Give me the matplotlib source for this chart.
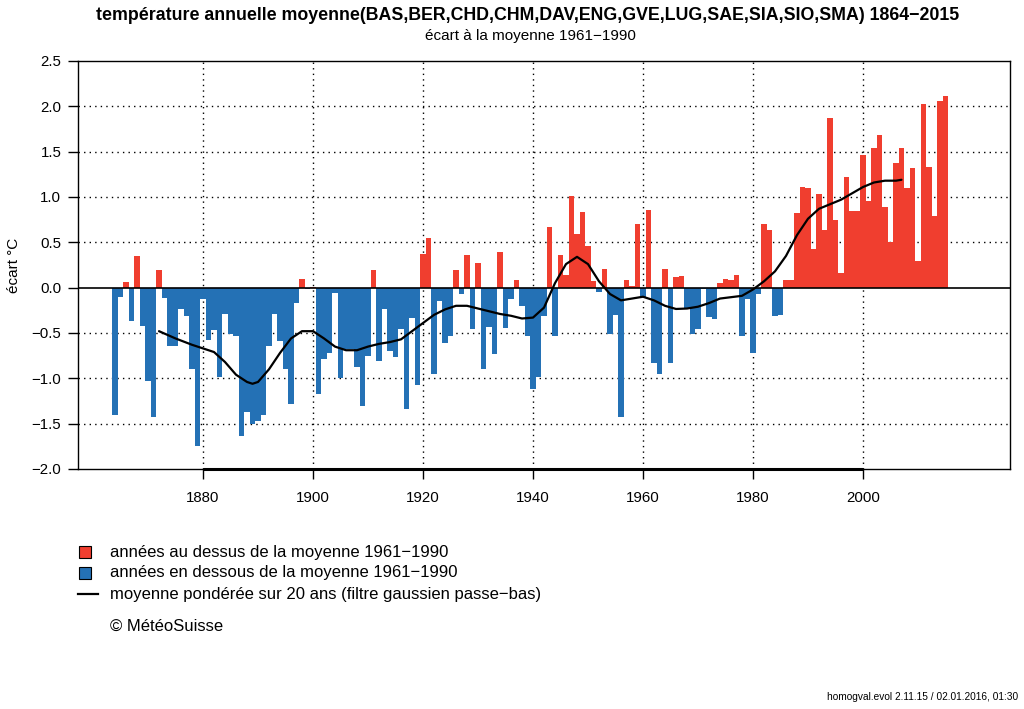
import numpy as np
import matplotlib
matplotlib.use("Agg")
import matplotlib.pyplot as plt
from matplotlib.patches import Rectangle
from matplotlib.lines import Line2D

plt.rcParams['font.family'] = ['Liberation Sans', 'DejaVu Sans']

first_year = 1864
anomaly = [
    -1.40, -0.10, 0.06, -0.37, 0.35, -0.42, -1.03, -1.43, 0.19, -0.11,   # 1864-1873
    -0.64, -0.64, -0.23, -0.31, -0.90, -1.75, -0.12, -0.58, -0.47, -0.99,  # 1874-1883
    -0.29, -0.51, -0.53, -1.64, -1.37, -1.50, -1.47, -1.40, -0.64, -0.29,  # 1884-1893
    -0.59, -0.90, -1.28, -0.17, 0.10, -0.02, 0.01, -1.17, -0.79, -0.72,    # 1894-1903
    -0.06, -1.00, -0.68, -0.68, -0.88, -1.30, -0.75, 0.20, -0.81, -0.23,   # 1904-1913
    -0.70, -0.76, -0.46, -1.34, -0.33, -1.07, 0.37, 0.55, -0.95, -0.15,    # 1914-1923
    -0.61, -0.53, 0.19, -0.07, 0.36, -0.46, 0.27, -0.90, -0.43, -0.73,     # 1924-1933
    0.39, -0.45, -0.13, 0.08, -0.20, -0.53, -1.12, -0.98, -0.31, 0.67,     # 1934-1943
    -0.53, 0.36, 0.14, 1.01, 0.59, 0.84, 0.46, 0.07, -0.05, 0.21,          # 1944-1953
    -0.51, -0.30, -1.43, 0.08, 0.02, 0.70, -0.10, 0.86, -0.83, -0.95,      # 1954-1963
    0.21, -0.83, 0.12, 0.13, -0.235, -0.51, -0.46, -0.02, -0.32, -0.35,    # 1964-1973
    0.055, 0.10, 0.08, 0.14, -0.53, -0.13, -0.72, -0.07, 0.70, 0.64,       # 1974-1983
    -0.31, -0.30, 0.09, 0.08, 0.82, 1.11, 1.10, 0.43, 1.03, 0.64,          # 1984-1993
    1.87, 0.75, 0.165, 1.22, 0.85, 0.85, 1.46, 0.96, 1.54, 1.68,           # 1994-2003
    0.89, 0.50, 1.37, 1.54, 1.10, 1.32, 0.29, 2.03, 1.33, 0.79,            # 2004-2013
    2.06, 2.11,                                                            # 2014-2015
]
years = np.arange(first_year, first_year + len(anomaly))

smooth_years = [1872, 1875, 1878, 1880, 1882, 1884, 1886, 1888, 1889, 1890,
                1892, 1894, 1896, 1898, 1900, 1902, 1904, 1906, 1908, 1910,
                1912, 1914, 1916, 1918, 1920, 1922, 1924, 1926, 1928, 1930,
                1932, 1934, 1936, 1938, 1940, 1942, 1944, 1946, 1948, 1950,
                1952, 1954, 1956, 1958, 1960, 1962, 1964, 1966, 1968, 1970,
                1972, 1974, 1976, 1978, 1980, 1982, 1984, 1986, 1988, 1990,
                1992, 1994, 1996, 1998, 2000, 2002, 2004, 2006, 2007]
smooth_vals = [-0.48, -0.56, -0.63, -0.67, -0.71, -0.82, -0.96, -1.04, -1.06, -1.04,
               -0.90, -0.72, -0.56, -0.48, -0.48, -0.56, -0.65, -0.69, -0.69, -0.65,
               -0.62, -0.60, -0.57, -0.48, -0.39, -0.30, -0.24, -0.20, -0.20, -0.23,
               -0.26, -0.29, -0.31, -0.34, -0.33, -0.22, 0.05, 0.26, 0.34, 0.26,
               0.07, -0.07, -0.14, -0.12, -0.10, -0.14, -0.20, -0.235, -0.23, -0.21,
               -0.17, -0.12, -0.105, -0.09, -0.02, 0.07, 0.18, 0.35, 0.58, 0.76,
               0.87, 0.92, 0.97, 1.04, 1.11, 1.16, 1.18, 1.18, 1.19]

x_ticks = [1880, 1900, 1920, 1940, 1960, 1980, 2000]
y_ticks = [2.5, 2.0, 1.5, 1.0, 0.5, 0.0, -0.5, -1.0, -1.5, -2.0]

title = "température annuelle moyenne(BAS,BER,CHD,CHM,DAV,ENG,GVE,LUG,SAE,SIA,SIO,SMA) 1864\u22122015"
subtitle = "écart à la moyenne 1961\u22121990"
ylabel = "écart °C"
legend_labels = ["années au dessus de la moyenne 1961\u22121990",
                 "années en dessous de la moyenne 1961\u22121990",
                 "moyenne pondérée sur 20 ans (filtre gaussien passe\u2212bas)"]
copyright_txt = "© MétéoSuisse"
footer = "homogval.evol 2.11.15 / 02.01.2016, 01:30"

RED = "#F03E2F"
BLUE = "#2471B5"

W, H = 1024, 709
fig = plt.figure(figsize=(W / 100, H / 100), dpi=100)
ax = fig.add_axes([78 / W, 1 - 469 / H, (1010 - 78) / W, (469 - 61) / H])

vals = np.array(anomaly)
colors = [RED if v > 0 else BLUE for v in vals]
ax.bar(years, vals, width=0.96, color=colors, edgecolor='none', zorder=2)

# grid
for xt in x_ticks:
    ax.axvline(xt, color='black', lw=1.0, ls=(0, (1, 3)), zorder=1)
for yt in y_ticks[1:-1]:
    if yt != 0:
        ax.axhline(yt, color='black', lw=1.0, ls=(0, (1, 3)), zorder=1)
ax.axhline(0, color='black', lw=1.2, zorder=3)

ax.plot(smooth_years, smooth_vals, color='black', lw=1.6, zorder=4,
        solid_capstyle='round', solid_joinstyle='round')

ax.set_xlim(1857.27, 2026.73)
ax.set_ylim(-2.0, 2.5)
ax.set_xticks(x_ticks)
ax.set_xticklabels([str(t) for t in x_ticks])
ax.set_yticks(y_ticks)
ax.set_yticklabels([f"{t:.1f}".replace("-", "\u2212") for t in y_ticks])
ax.tick_params(axis='both', direction='out', length=7, width=1.0, labelsize=10.8,
               colors='black')
ax.tick_params(axis='x', pad=9)
ax.tick_params(axis='y', pad=5)
for sp in ax.spines.values():
    sp.set_linewidth(1.0)
# thick axis line between first and last tick
ax.plot([1880, 2000], [-2.0, -2.0], color='black', lw=2.2, clip_on=False, zorder=5,
        solid_capstyle='butt')

fig.text(14 / W, 1 - 265 / H, ylabel, rotation=90, ha='center', va='center', fontsize=11)
fig.text(528 / W, 1 - 15 / H, title, ha='center', va='center', fontsize=12.8, fontweight='bold')
fig.text(530 / W, 1 - 36 / H, subtitle, ha='center', va='center', fontsize=11)

# legend
rows = [552, 573, 594]
for i, (lab, y) in enumerate(zip(legend_labels, rows)):
    if i < 2:
        fig.patches.append(Rectangle((79 / W, 1 - (y + 6) / H), 12 / W, 12 / H,
                                     transform=fig.transFigure, facecolor=[RED, BLUE][i],
                                     edgecolor='black', lw=0.8))
    else:
        fig.lines.append(Line2D([78 / W, 98 / W], [1 - y / H, 1 - y / H],
                                transform=fig.transFigure, color='black', lw=1.6))
    fig.text(110 / W, 1 - y / H, lab, ha='left', va='center', fontsize=12)
fig.text(110 / W, 1 - 626 / H, copyright_txt, ha='left', va='center', fontsize=12)
fig.text(1018 / W, 1 - 697 / H, footer, ha='right', va='center', fontsize=7.3)

fig.savefig("out.png", dpi=100)
